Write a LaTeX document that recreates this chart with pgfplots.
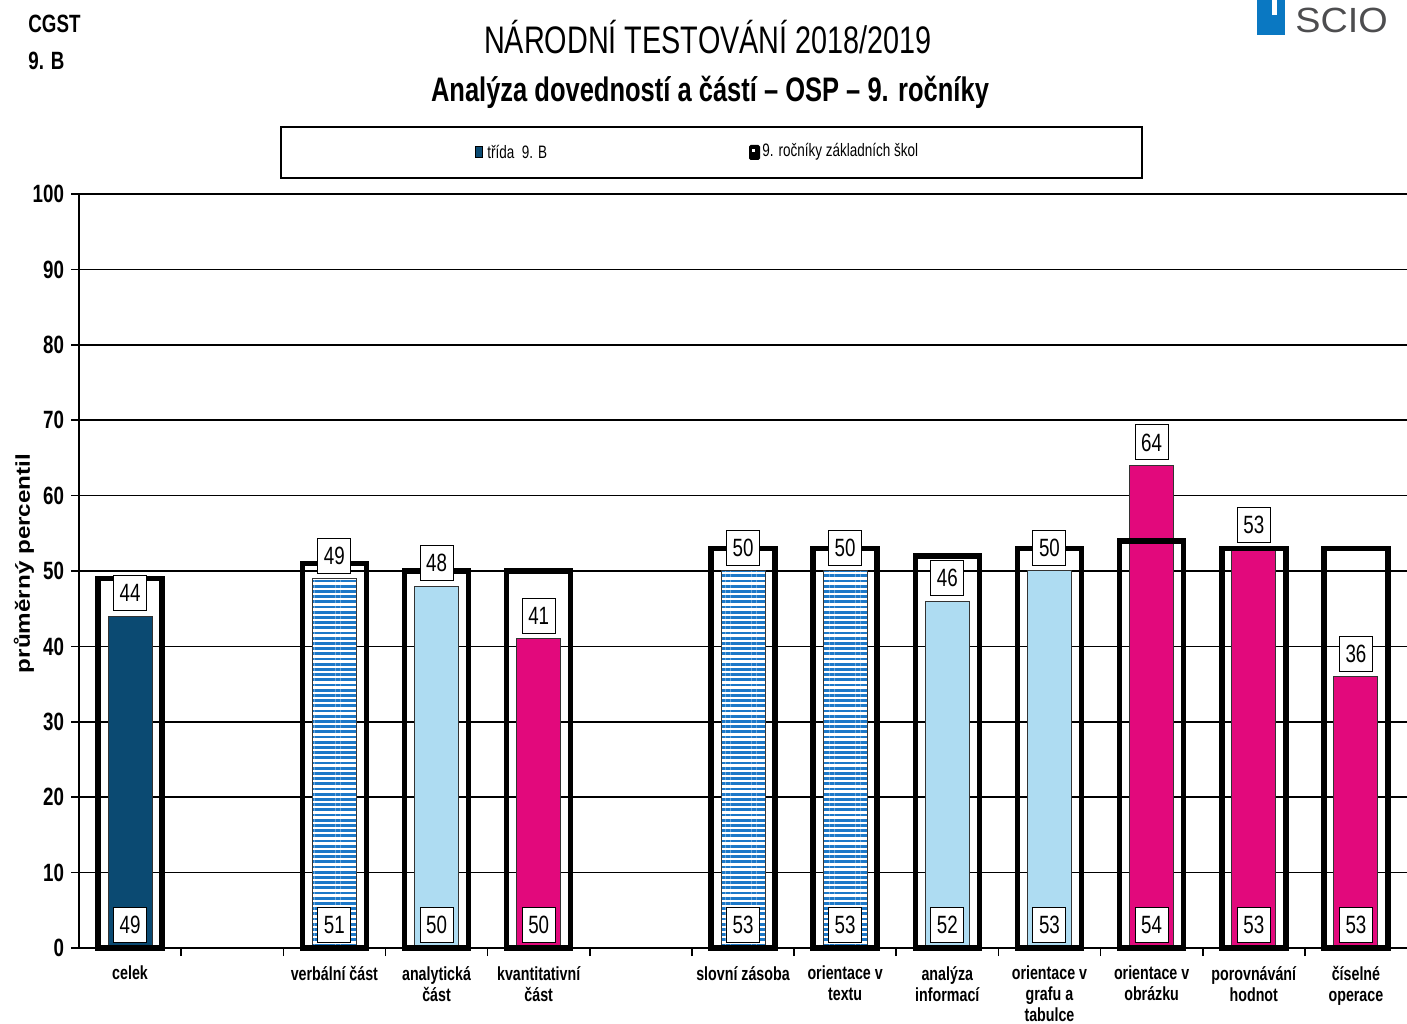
\documentclass[border=0pt]{standalone}
\usepackage{pgfplots}
\pgfplotsset{compat=1.18}
\usepackage{pgfplotstable}
\usepackage{fontspec}
\setmainfont{Liberation Sans}[FakeStretch=0.75]
\newfontfamily\widefont{Liberation Sans}[FakeStretch=1.21]
\newfontfamily\logofont{Liberation Sans}[FakeStretch=1.08]
\usetikzlibrary{patterns.meta}

\definecolor{classdark}{HTML}{0B4A72}
\definecolor{classlight}{HTML}{AEDCF2}
\definecolor{classpink}{HTML}{E2097C}
\definecolor{stripeblue}{HTML}{1C78C8}
\definecolor{scioblue}{HTML}{0A78C2}
\definecolor{sciogray}{HTML}{4D4D4F}

% x = slot, outer = 9. rocniky ZS, inner = trida 9. B
\pgfplotstableread{
x outer inner
0  49 44
2  51 49
3  50 48
4  50 41
6  53 50
7  53 50
8  52 46
9  53 50
10 54 64
11 53 53
12 53 36
}\scores

\pgfplotstableread{
x inner
0 44
}\celek
\pgfplotstableread{
x inner
2 49
6 50
7 50
}\verbal
\pgfplotstableread{
x inner
3 48
8 46
9 50
}\analytic
\pgfplotstableread{
x inner
4  41
10 64
11 53
12 36
}\quant

\pgfplotsset{
  valbox/.style={nodes near coords,
    nodes near coords style={draw=black, line width=0.5pt, fill=white,
      inner sep=0pt, minimum width=16.5pt, minimum height=17.5pt,
      anchor=south, yshift=2.5pt, font=\fontsize{12.5}{13}\selectfont}},
  inner bar/.style={ybar, bar shift=0pt, bar width=22pt, draw=black!80, line width=0.5pt},
}

\begin{document}
\begin{tikzpicture}
\path[use as bounding box] (0,0) rectangle (703.5pt,511.5pt);

\begin{axis}[
  at={(39.5pt,37.5pt)}, anchor=south west,
  scale only axis, width=664pt, height=377pt,
  xmin=-0.5, xmax=12.5, ymin=0, ymax=100,
  clip=false,
  axis x line*=bottom, axis y line*=left,
  axis line style={line width=0.8pt},
  ytick={0,10,...,100},
  ymajorgrids, grid style={black, line width=0.8pt},
  tick align=outside,
  tick style={black, line width=0.8pt},
  major tick length=4pt, minor tick length=4pt,
  xtick={0,...,12},
  major x tick style={draw=none},
  minor xtick={0.5,1.5,...,11.5},
  xticklabels={celek,{},verbální část,{analytická\\část},{kvantitativní\\část},{},
    slovní zásoba,{orientace v\\textu},{analýza\\informací},{orientace v\\grafu a\\tabulce},
    {orientace v\\obrázku},{porovnávání\\hodnot},{číselné\\operace}},
  xticklabel style={align=center, yshift=-1.5pt, font=\fontsize{9.5}{10.5}\selectfont\bfseries},
  yticklabel style={font=\fontsize{12.5}{13}\selectfont\bfseries},
  /pgf/number format/assume math mode=true,
  ylabel={průměrný percentil},
  ylabel style={at={(axis description cs:-0.0414,0.51)}, anchor=center,
    font=\widefont\fontsize{10}{12}\selectfont\bfseries},
]
% inner bars (trida 9. B)
\addplot[inner bar, fill=classdark] table[x=x,y=inner]{\celek};
\addplot[inner bar, fill=white,
  postaction={pattern={Lines[angle=0,distance=2.6pt,line width=1.35pt]}, pattern color=stripeblue}]
  table[x=x,y=inner]{\verbal};
\addplot[inner bar, fill=classlight] table[x=x,y=inner]{\analytic};
\addplot[inner bar, fill=classpink] table[x=x,y=inner]{\quant};
% outer bars (9. rocniky ZS)
\addplot[ybar, bar shift=0pt, bar width=32pt, draw=black, line width=2.75pt, fill=none]
  table[x=x,y=outer]{\scores};
% value boxes
\addplot[ybar, bar shift=0pt, bar width=1pt, draw=none, fill=none, valbox, point meta=y]
  table[x=x,y=inner]{\scores};
\addplot[ybar, bar shift=0pt, bar width=1pt, draw=none, fill=none, valbox, point meta=explicit]
  table[x=x,y expr=0,meta=outer]{\scores};
\end{axis}

% header
\node[anchor=west, inner sep=0pt, font=\fontsize{12.5}{14}\selectfont\bfseries] at (14pt,499.5pt) {CGST};
\node[anchor=west, inner sep=0pt, font=\fontsize{12.5}{14}\selectfont\bfseries] at (14pt,481pt) {9. B};
\node[font=\fontsize{19.2}{22}\selectfont] at (354pt,493pt) {NÁRODNÍ TESTOVÁNÍ 2018/2019};
\node[font=\fontsize{17}{20}\selectfont\bfseries] at (355pt,465.5pt) {Analýza dovedností a částí – OSP – 9. ročníky};

% logo
\fill[scioblue] (628.5pt,494pt) rectangle (642.5pt,511.5pt);
\fill[white] (636pt,504pt) rectangle (638.5pt,511.5pt);
\node[anchor=base west, inner sep=0pt, text=sciogray, font=\logofont\fontsize{17.5}{17.5}\selectfont] at (647.5pt,495pt) {SCIO};

% legend
\draw[black, line width=0.75pt] (140.5pt,422.5pt) rectangle (571pt,448pt);
\fill[black] (237.5pt,432.5pt) rectangle (241.5pt,438.5pt);
\fill[classdark] (238.1pt,433.1pt) rectangle (240.9pt,437.9pt);
\node[anchor=west, inner sep=0pt, font=\fontsize{9}{10}\selectfont] at (243.5pt,435.5pt) {třída\ \ 9. B};
\fill[black, rounded corners=0.8pt] (374.5pt,431.5pt) rectangle (380pt,439pt);
\fill[white] (376pt,435.5pt) rectangle (377.6pt,437pt);
\node[anchor=west, inner sep=0pt, font=\fontsize{9}{10}\selectfont] at (381pt,435.5pt) {9. ročníky základních škol};
\end{tikzpicture}
\end{document}
